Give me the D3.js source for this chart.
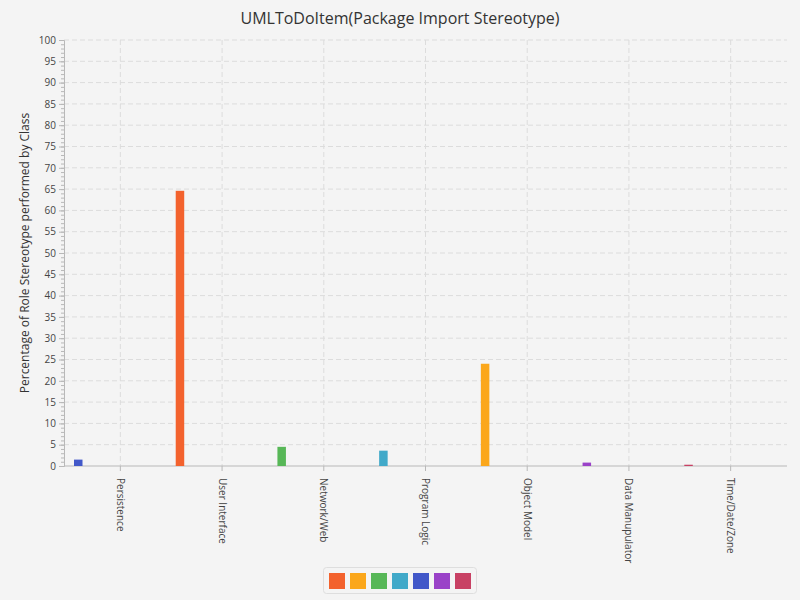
<!DOCTYPE html>
<html>
<head>
<meta charset="utf-8">
<script src="https://cdn.jsdelivr.net/npm/d3@7"></script>
<style>
  body { margin: 0; background: #f4f4f4; font-family: "Open Sans", "Noto Sans", sans-serif; }
</style>
</head>
<body>
<script>
// chart data
var categories = ["Persistence", "User Interface", "Network/Web", "Program Logic",
  "Object Model", "Data Manupulator", "Time/Date/Zone"];
var seriesColors = ["#f3622d", "#fba71b", "#57b757", "#41a9c9", "#4258c9", "#9a42c8", "#c84164"];
// one value per category, coloured by the series index it belongs to
var values = [1.5, 64.6, 4.5, 3.6, 24.0, 0.8, 0.3];
var seriesIndex = [4, 0, 2, 3, 1, 5, 6];
var yTicks = d3.range(0, 101, 5);

var svgWidth = 800, svgHeight = 600;
var svg = d3.select("body").append("svg")
  .attr("width", svgWidth).attr("height", svgHeight);
svg.append("rect").attr("width", svgWidth).attr("height", svgHeight).attr("fill", "#f4f4f4");

var x = d3.scaleBand().domain(categories).range([69.5, 781.5]);
var y = d3.scaleLinear().domain([0, 100]).range([466, 40]);

// grid
var grid = svg.append("g");
grid.selectAll(".hg").data(yTicks.slice(1)).enter().append("line")
  .attr("x1", 64).attr("x2", 787)
  .attr("y1", d => y(d)).attr("y2", d => y(d))
  .attr("stroke", "#dcdcdc").attr("stroke-dasharray", "5,3");
grid.selectAll(".vg").data(categories).enter().append("line")
  .attr("x1", d => x(d) + x.bandwidth() / 2).attr("x2", d => x(d) + x.bandwidth() / 2)
  .attr("y1", 40).attr("y2", 466)
  .attr("stroke", "#dcdcdc").attr("stroke-dasharray", "5,3");

// y axis
var yAxis = svg.append("g").attr("transform", "translate(64,0)")
  .call(d3.axisLeft(y).tickValues(yTicks).tickSize(5).tickPadding(3));
svg.append("g").attr("transform", "translate(64,0)")
  .call(d3.axisLeft(y).tickValues(d3.range(0, 101, 1)).tickSize(3).tickFormat(""))
  .call(g => g.select(".domain").remove());
svg.selectAll(".tick line").attr("stroke", "#b8b8b8");
yAxis.select(".domain").attr("stroke", "#b8b8b8");
yAxis.selectAll("text").attr("fill", "#444").attr("font-size", 10)
  .attr("font-family", "Open Sans, sans-serif");

// x axis
var xAxis = svg.append("g").attr("transform", "translate(0,466)")
  .call(d3.axisBottom(x).tickSize(5).tickSizeOuter(0));
xAxis.select(".domain").attr("stroke", "#b8b8b8").attr("d", "M64,0H787");
xAxis.selectAll(".tick line").attr("stroke", "#b8b8b8");
xAxis.selectAll("text")
  .attr("fill", "#444").attr("font-size", 10).attr("font-family", "Open Sans, sans-serif")
  .attr("text-anchor", "start").attr("dy", "0.35em")
  .attr("transform", "translate(0,12) rotate(90)").attr("x", 0).attr("y", 0);

// bars
svg.selectAll(".bar").data(categories).enter().append("rect")
  .attr("x", d => x(d) + 4.5)
  .attr("width", 8.5)
  .attr("y", (d, i) => y(values[i]))
  .attr("height", (d, i) => y(0) - y(values[i]))
  .attr("fill", (d, i) => seriesColors[seriesIndex[i]]);

// title and axis label
svg.append("text").attr("x", 400).attr("y", 24).attr("text-anchor", "middle")
  .attr("font-size", 16).attr("fill", "#333").text("UMLToDoItem(Package Import Stereotype)");
svg.append("text").attr("transform", "translate(29,253) rotate(-90)")
  .attr("text-anchor", "middle").attr("font-size", 12).attr("fill", "#333")
  .text("Percentage of Role Stereotype performed by Class");

// legend
var legend = svg.append("g");
legend.append("rect").attr("x", 323.5).attr("y", 567.5).attr("width", 153).attr("height", 26)
  .attr("rx", 3).attr("fill", "#f4f4f4").attr("stroke", "#dedede");
legend.selectAll(".sw").data(seriesColors).enter().append("rect")
  .attr("x", (d, i) => 329 + i * 21).attr("y", 573).attr("width", 16).attr("height", 16)
  .attr("fill", d => d);
</script>
</body>
</html>
